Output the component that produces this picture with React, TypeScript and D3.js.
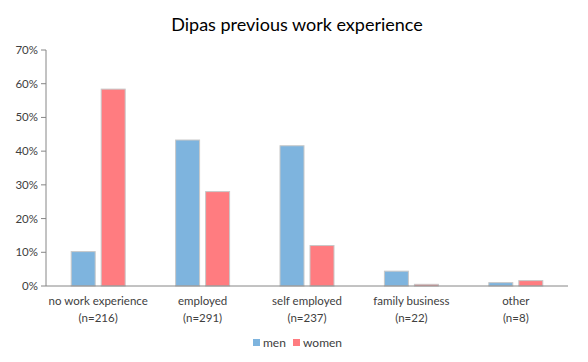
import React from "react";
import * as d3 from "d3";

const categories = ["no work experience", "employed", "self employed", "family business", "other"];
const sampleSizes = ["(n=216)", "(n=291)", "(n=237)", "(n=22)", "(n=8)"];
const men = [10.2, 43.3, 41.6, 4.4, 1.0];
const women = [58.4, 28.0, 12.0, 0.5, 1.6];
const yTicks = [0, 10, 20, 30, 40, 50, 60, 70];
const seriesNames = ["men", "women"];
const colors = ["#7eb4de", "#ff7c80"];

const W = 588;
const H = 362;
const m = { t: 50, r: 20, b: 76, l: 46 };
const font = "Lato, 'Open Sans', sans-serif";

export default function App() {
  const x = d3.scaleBand().domain(categories).range([m.l, W - m.r]);
  const y = d3.scaleLinear().domain([0, 70]).range([H - m.b, m.t]);
  const barW = 24;
  const gap = 6;
  const series = [men, women];

  return (
    <svg width={W} height={H} style={{ position: "absolute", left: 0, top: 0, background: "#fff" }}>
      <text x={297} y={31} textAnchor="middle" fontFamily={font} fontSize={18} fill="#000">
        Dipas previous work experience
      </text>

      {/* y axis */}
      <line x1={m.l} x2={m.l} y1={y(70)} y2={y(0)} stroke="#868686" />
      {yTicks.map(t => (
        <g key={t}>
          <line x1={m.l - 5} x2={m.l} y1={y(t)} y2={y(t)} stroke="#868686" />
          <text x={m.l - 8} y={y(t)} dy="0.35em" textAnchor="end" fontFamily={font} fontSize={11.5} fill="#404040">
            {t}%
          </text>
        </g>
      ))}

      {/* bars */}
      {series.map((vals, si) =>
        vals.map((v, i) => {
          const cx = (x(categories[i]) as number) + x.bandwidth() / 2;
          const bx = si === 0 ? cx - gap / 2 - barW : cx + gap / 2;
          return (
            <rect
              key={`${si}-${i}`}
              x={bx}
              y={y(v)}
              width={barW}
              height={y(0) - y(v)}
              fill={colors[si]}
              stroke="#c8c8c8"
              strokeWidth={1}
            />
          );
        })
      )}

      {/* x axis */}
      <line x1={m.l} x2={W - m.r} y1={y(0)} y2={y(0)} stroke="#868686" />
      {categories.map((c, i) => {
        const cx = (x(c) as number) + x.bandwidth() / 2;
        return (
          <text key={c} x={cx} textAnchor="middle" fontFamily={font} fontSize={11.5} fill="#404040">
            <tspan x={cx} y={305}>{c}</tspan>
            <tspan x={cx} y={322}>{sampleSizes[i]}</tspan>
          </text>
        );
      })}

      {/* legend */}
      {seriesNames.map((s, i) => {
        const lx = 253 + i * 40;
        return (
          <g key={s}>
            <rect x={lx} y={339} width={7} height={7} fill={colors[i]} />
            <text x={lx + 10} y={342.5} dy="0.35em" fontFamily={font} fontSize={12} fill="#404040">
              {s}
            </text>
          </g>
        );
      })}
    </svg>
  );
}
